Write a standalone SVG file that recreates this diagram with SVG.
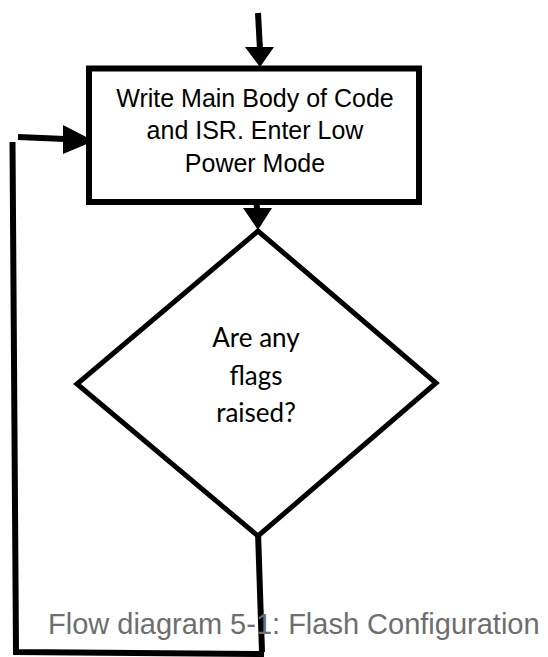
<svg xmlns="http://www.w3.org/2000/svg" width="548" height="657" viewBox="0 0 548 657">
<style>
.box{fill:#fff;stroke:#000;stroke-width:6}
.dia{fill:#fff;stroke:#000;stroke-width:5;stroke-linejoin:miter}
.ln{fill:none;stroke:#000;stroke-width:6}
.head{fill:#000;stroke:none}
.t1{font-family:"Liberation Sans",Arial,sans-serif;font-size:25px;fill:#000;text-anchor:middle}
.t2{font-family:Lato,"Open Sans",sans-serif;font-size:26px;fill:#000;text-anchor:middle}
.cap{font-family:"Liberation Sans",Arial,sans-serif;font-size:29px;fill:#6e6e6e}
</style>
<rect width="548" height="657" fill="#fff"/>
<g id="connectors">
  <line class="ln" x1="258" y1="13" x2="260" y2="50"/>
  <polygon class="head" points="245,47 274,47 260,67"/>
  <line class="ln" x1="18" y1="137" x2="65" y2="139"/>
  <polygon class="head" points="63,125 63,154 94,141"/>
  <line class="ln" x1="256" y1="189" x2="257" y2="210"/>
  <polygon class="head" points="243,208 272,208 258,230"/>
  <line class="ln" x1="258" y1="532" x2="262" y2="652"/>
  <polyline class="ln" points="12.5,142 16,652 264,654"/>
</g>
<g id="process">
  <rect class="box" x="89" y="68.5" width="330" height="133.5"/>
  <text class="t1" x="255" y="107">Write Main Body of Code</text>
  <text class="t1" x="255" y="139">and ISR. Enter Low</text>
  <text class="t1" x="255" y="172">Power Mode</text>
</g>
<g id="decision">
  <polygon class="dia" points="258,231 77,384 258,536 436,383"/>
  <text class="t2" x="256" y="347">Are any</text>
  <text class="t2" x="256" y="385">flags</text>
  <text class="t2" x="256" y="422">raised?</text>
</g>
<g id="caption">
  <text class="cap" x="48" y="634">Flow diagram 5-1: Flash Configuration</text>
</g>
</svg>
